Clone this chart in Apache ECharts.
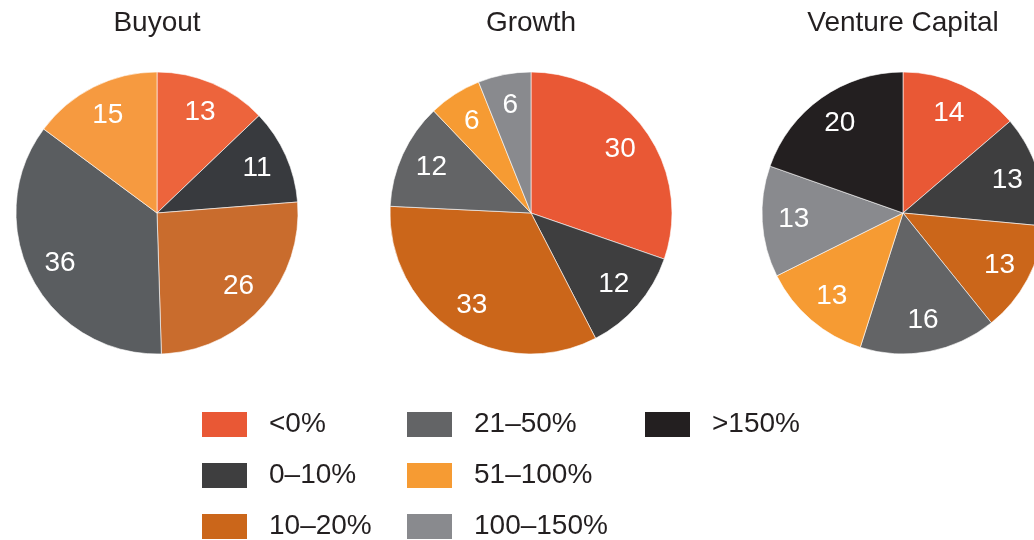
<!DOCTYPE html>
<html>
<head>
<meta charset="utf-8">
<script src="https://cdn.jsdelivr.net/npm/echarts@6/dist/echarts.min.js"></script>
<style>
html,body{margin:0;padding:0;background:#fff;}
#chart{width:1034px;height:540px;}
</style>
</head>
<body>
<div id="chart"></div>
<script>
// ---- data ----
const categories = ['<0%', '0–10%', '10–20%', '21–50%', '51–100%', '100–150%', '>150%'];
const pieTitles = ['Buyout', 'Growth', 'Venture Capital'];
const buyoutValues = [13, 11, 26, 36, 15];
const growthValues = [30, 12, 33, 12, 6, 6];
const ventureValues = [14, 13, 13, 16, 13, 13, 20];
const legendColumns = [
  ['<0%', '0–10%', '10–20%'],
  ['21–50%', '51–100%', '100–150%'],
  ['>150%']
];

// ---- styles ----
const FONT = 'Liberation Sans, Arial, Helvetica, sans-serif';
const mainColors = ['#E95835', '#3E3E3F', '#CB661A', '#636466', '#F69B33', '#898A8E', '#231F20'];
const buyoutColors = ['#ED643C', '#383A3E', '#C96C2D', '#5A5D60', '#F69A40'];
const centers = [[157, 213], [531, 213], [903, 213]];
const outerR = 141;
const labelInnerR = 72;
const legendLefts = [200, 405, 643];

const allValues = [buyoutValues, growthValues, ventureValues];
const allColors = [buyoutColors, mainColors, mainColors];

const series = [];
allValues.forEach((vals, i) => {
  const data = vals.map((v, k) => ({
    name: categories[k],
    value: v,
    itemStyle: { color: allColors[i][k] }
  }));
  series.push({
    type: 'pie',
    center: centers[i],
    radius: [0, outerR],
    startAngle: 90,
    clockwise: true,
    silent: true,
    animation: false,
    label: { show: false },
    labelLine: { show: false },
    itemStyle: { borderColor: '#ffffff', borderWidth: 0.6 },
    data: data
  });
  series.push({
    type: 'pie',
    center: centers[i],
    radius: [labelInnerR, outerR],
    startAngle: 90,
    clockwise: true,
    silent: true,
    animation: false,
    itemStyle: { color: 'rgba(0,0,0,0)' },
    label: {
      show: true,
      position: 'inside',
      formatter: '{c}',
      color: '#ffffff',
      fontSize: 28,
      fontFamily: FONT
    },
    labelLine: { show: false },
    data: vals.map((v, k) => ({ name: categories[k], value: v }))
  });
});

const legends = legendColumns.map((names, c) => ({
  type: 'plain',
  orient: 'vertical',
  left: legendLefts[c],
  top: 410,
  width: 240,
  height: 200,
  padding: 0,
  icon: 'rect',
  itemWidth: 47,
  itemHeight: 27,
  itemGap: 22,
  selectedMode: false,
  textStyle: {
    fontSize: 28,
    lineHeight: 27,
    color: '#231F20',
    fontFamily: FONT,
    padding: [0, 0, 0, 16]
  },
  data: names.map(n => ({
    name: n,
    itemStyle: { color: mainColors[categories.indexOf(n)] }
  }))
}));

const titles = pieTitles.map((t, i) => ({
  type: 'text',
  x: centers[i][0],
  y: 23,
  style: {
    text: t,
    fill: '#231F20',
    font: '28px ' + FONT,
    textAlign: 'center',
    textVerticalAlign: 'middle'
  }
}));

const chart = echarts.init(document.getElementById('chart'), null, { renderer: 'canvas' });
chart.setOption({
  backgroundColor: '#ffffff',
  animation: false,
  legend: legends,
  graphic: titles,
  series: series
});
</script>
</body>
</html>
